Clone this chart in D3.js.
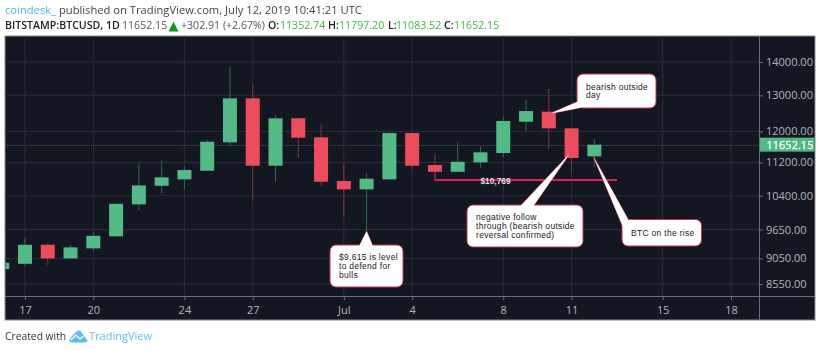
<!DOCTYPE html>
<html>
<head>
<meta charset="utf-8">
<script src="https://cdn.jsdelivr.net/npm/d3@7"></script>
<style>
html, body { margin: 0; padding: 0; background: #fff; }
svg { display: block; filter: blur(0.35px); }
text { font-family: "Open Sans", sans-serif; }
</style>
</head>
<body>
<div id="chart"></div>
<script>
// daily candles
var dates = ["2019-06-16","2019-06-17","2019-06-18","2019-06-19","2019-06-20","2019-06-21","2019-06-22","2019-06-23","2019-06-24","2019-06-25","2019-06-26","2019-06-27","2019-06-28","2019-06-29","2019-06-30","2019-07-01","2019-07-02","2019-07-03","2019-07-04","2019-07-05","2019-07-06","2019-07-07","2019-07-08","2019-07-09","2019-07-10","2019-07-11","2019-07-12"];
var opens = [8839,8942,9328,9051,9254,9505,10204,10635,10787,10995,11712,12915,11119,12354,11844,10748,10550,10787,11956,11136,10970,11203,11437,12260,12536,12082,11352.74];
var highs = [8970,9461,9363,9321,9589,10225,11178,11243,11094,11780,13867,13332,12444,12376,12190,11178,10933,11983,11983,11430,11712,11609,12397,12867,13185,12090,11797.20];
var lows = [8830,8907,8916,9037,9205,9500,10069,10472,10550,10988,11624,10296,10730,11311,10651,9936,9615,10787,11038,10970,10970,11070,11327,12017,11539,10947,11083.52];
var closes = [8963,9328,9051,9275,9517,10217,10644,10836,11013,11728,12915,11119,12354,11833,10730,10550,10802,11956,11119,10970,11217,11455,12280,12555,12082,11311,11652.15];

var priceTicks = [14000,13000,12000,11200,10400,9650,9050,8550];
var timeTicks = ["2019-06-17","2019-06-20","2019-06-24","2019-06-27","2019-07-01","2019-07-04","2019-07-08","2019-07-11","2019-07-15","2019-07-18"];
var timeLabels = ["17","20","24","27","Jul","4","8","11","15","18"];
var lastPrice = 11652.15;
var supportPrice = 10769;
var parseDay = d3.utcParse("%Y-%m-%d");

var width = 820, height = 351;
var left = 5, right = 815, top_ = 36, axisX = 759, axisY = 297, bottom = 320;

var up = "#53b987", down = "#eb4d5c", upWick = "#336854", downWick = "#7f323f";
var grid = "#2a2e39", bg = "#131722", frame = "#6a6d78", tickText = "#b2b5be";

var svg = d3.select("#chart").append("svg").attr("width", width).attr("height", height);

var x = d3.scaleUtc().domain([parseDay("2019-06-17"), parseDay("2019-07-18")]).range([25, 731]);
var y = d3.scaleLog().domain([8550, 14000]).range([284, 62]);

// chart panel
svg.append("rect").attr("x", left).attr("y", top_).attr("width", right - left).attr("height", bottom - top_)
    .attr("fill", bg).attr("stroke", "#8b8d93").attr("stroke-width", 1);

svg.append("clipPath").attr("id", "plot").append("rect")
    .attr("x", left + 0.5).attr("y", top_).attr("width", axisX - left).attr("height", axisY - top_);

var plot = svg.append("g").attr("clip-path", "url(#plot)");

// grid
plot.selectAll(".gx").data(timeTicks).join("line")
    .attr("x1", d => x(parseDay(d))).attr("x2", d => x(parseDay(d)))
    .attr("y1", top_).attr("y2", axisY).attr("stroke", grid);
plot.selectAll(".gy").data(priceTicks).join("line")
    .attr("x1", left).attr("x2", axisX)
    .attr("y1", d => y(d)).attr("y2", d => y(d)).attr("stroke", grid);

// last price line
plot.append("line").attr("x1", left).attr("x2", axisX)
    .attr("y1", Math.round(y(lastPrice)) + 0.5).attr("y2", Math.round(y(lastPrice)) + 0.5)
    .attr("stroke", "#2f5a4c").attr("stroke-dasharray", "1 1");

// candles
var candles = dates.map((d, i) => ({ date: parseDay(d), o: opens[i], h: highs[i], l: lows[i], c: closes[i] }));
var bodyW = 14;

plot.selectAll(".wick").data(candles).join("line")
    .attr("x1", d => x(d.date)).attr("x2", d => x(d.date))
    .attr("y1", d => y(d.h)).attr("y2", d => y(d.l))
    .attr("stroke", d => d.c >= d.o ? upWick : downWick).attr("stroke-width", 1);

plot.selectAll(".body").data(candles).join("rect")
    .attr("x", d => x(d.date) - bodyW / 2).attr("width", bodyW)
    .attr("y", d => y(Math.max(d.o, d.c)))
    .attr("height", d => Math.abs(y(d.o) - y(d.c)))
    .attr("fill", d => d.c >= d.o ? up : down);

// support line
svg.append("line")
    .attr("x1", x(parseDay("2019-07-05"))).attr("x2", 617)
    .attr("y1", y(supportPrice)).attr("y2", y(supportPrice))
    .attr("stroke", "#e01e5e").attr("stroke-width", 2);
svg.append("line")
    .attr("x1", x(parseDay("2019-07-05"))).attr("x2", x(parseDay("2019-07-05")))
    .attr("y1", y(10970)).attr("y2", y(supportPrice))
    .attr("stroke", "#e01e5e").attr("stroke-width", 1);
svg.append("text").attr("x", 495.5).attr("y", y(supportPrice) + 3.5)
    .attr("text-anchor", "middle").attr("fill", "#dfe0e4")
    .attr("font-size", 8.3).attr("font-weight", 700).style("font-family", "Liberation Sans")
    .text("$10,769");

// callouts
function callout(box, tip, base, lines) {
    var g = svg.append("g");
    var tail = d3.line()([tip, base[0], base[1]]) + "Z";
    g.append("path").attr("d", tail).attr("fill", "#fff").attr("stroke", "#c8324a").attr("stroke-width", 1);
    g.append("rect").attr("x", box[0]).attr("y", box[1]).attr("width", box[2]).attr("height", box[3])
        .attr("rx", 6).attr("fill", "#fff").attr("stroke", "#c8324a").attr("stroke-width", 1);
    g.append("path").attr("d", tail).attr("fill", "#fff");
    g.selectAll("text").data(lines).join("text")
        .attr("x", box[0] + 9)
        .attr("y", (d, i) => box[1] + box[3] / 2 + (i - (lines.length - 1) / 2) * 8.6 + 3)
        .attr("fill", "#222")
        .attr("font-size", 8.5).style("font-family", "Liberation Sans").style("letter-spacing", "0.3px")
        .text(d => d);
}

callout([577, 74, 79, 34], [x(parseDay("2019-07-10")) + 1, y(12480)], [[578, 101.5], [584, 107]], ["bearish outside", "day"]);
callout([467, 205, 116, 42], [x(parseDay("2019-07-11")) - 1.5, y(11430)], [[520, 206.5], [533, 206.5]], ["negative follow", "through (bearish outside", "reversal confirmed)"]);
callout([622, 219.5, 79.5, 26.5], [x(parseDay("2019-07-12")) - 1, y(11352)], [[623, 227], [629, 221]], ["BTC on the rise"]);
callout([330, 245, 73, 42], [x(parseDay("2019-07-02")), y(9615)], [[359, 246.5], [373, 246.5]], ["$9,615 is level", "to defend for", "bulls"]);

// axes
var priceAxis = d3.axisRight(y).tickValues(priceTicks).tickSize(4).tickPadding(3).tickFormat(d3.format(".2f"));
var gy = svg.append("g").attr("transform", "translate(" + axisX + ",0)").call(priceAxis);
gy.select(".domain").remove();
gy.selectAll("line").attr("stroke", frame);
gy.selectAll("text").attr("fill", tickText).attr("font-size", 11).style("font-family", "Open Sans");

var timeAxis = d3.axisBottom(x).tickValues(timeTicks.map(parseDay)).tickSize(3).tickPadding(6)
    .tickFormat((d, i) => timeLabels[i]);
var gx = svg.append("g").attr("transform", "translate(0," + axisY + ")").call(timeAxis);
gx.select(".domain").remove();
gx.selectAll("line").attr("stroke", frame);
gx.selectAll("text").attr("fill", tickText).attr("font-size", 11).style("font-family", "Open Sans");

svg.append("line").attr("x1", axisX + 0.5).attr("x2", axisX + 0.5).attr("y1", top_).attr("y2", bottom).attr("stroke", frame);
svg.append("line").attr("x1", left).attr("x2", right).attr("y1", axisY - 0.5).attr("y2", axisY - 0.5).attr("stroke", frame);

// last price tag
svg.append("rect").attr("x", axisX + 1).attr("y", y(lastPrice) - 7).attr("width", right - axisX - 1.5).attr("height", 14).attr("fill", up);
svg.append("text").attr("x", 766.5).attr("y", y(lastPrice) + 4).attr("fill", "#fff")
    .attr("font-size", 11).attr("stroke", "#fff").attr("stroke-width", 0.25).text(d3.format(".2f")(lastPrice));

// header
var head = svg.append("text").attr("x", 5).attr("y", 14).attr("font-size", 11.2).attr("fill", "#444");
head.append("tspan").attr("fill", "#4db8e8").text("coindesk_");
head.append("tspan").text(" published on TradingView.com, July 12, 2019 10:41:21 UTC");

function subText(px, str, color, weight) {
    svg.append("text").attr("x", px).attr("y", 29).attr("font-size", 10.6)
        .attr("fill", color).attr("font-weight", weight).text(str);
}
subText(5, "BITSTAMP:BTCUSD, 1D", "#222", 600);
subText(122, "11652.15", "#555", 400);
svg.append("text").attr("x", 168.5).attr("y", 30).attr("font-size", 13).attr("fill", "#0a9a14")
    .style("font-family", "DejaVu Sans").text("▲");
subText(181, "+302.91 (+2.67%)", "#555", 400);
subText(268, "O:", "#222", 600);
subText(280, d3.format(".2f")(opens[opens.length - 1]), "#3cb83c", 400);
subText(328, "H:", "#222", 600);
subText(339, d3.format(".2f")(highs[highs.length - 1]), "#3cb83c", 400);
subText(388, "L:", "#222", 600);
subText(396, d3.format(".2f")(lows[lows.length - 1]), "#3cb83c", 400);
subText(444, "C:", "#222", 600);
subText(454, d3.format(".2f")(closes[closes.length - 1]), "#3cb83c", 400);

// footer
svg.append("text").attr("x", 5).attr("y", 340).attr("font-size", 10.3).attr("fill", "#333").text("Created with");
svg.append("path").attr("d", "M69 341 Q72 335 77 331 Q80 329.5 82 333 L88 341 L85 342.5 L72 342.5 Z").attr("fill", "#5cbfe8");
svg.append("polyline").attr("points", "71,340 76,335 80,339 83.5,336").attr("fill", "none").attr("stroke", "#fff").attr("stroke-width", 1.2);
svg.append("text").attr("x", 89).attr("y", 340).attr("font-size", 11).attr("fill", "#5cbfe8").text("TradingView");
</script>
</body>
</html>
